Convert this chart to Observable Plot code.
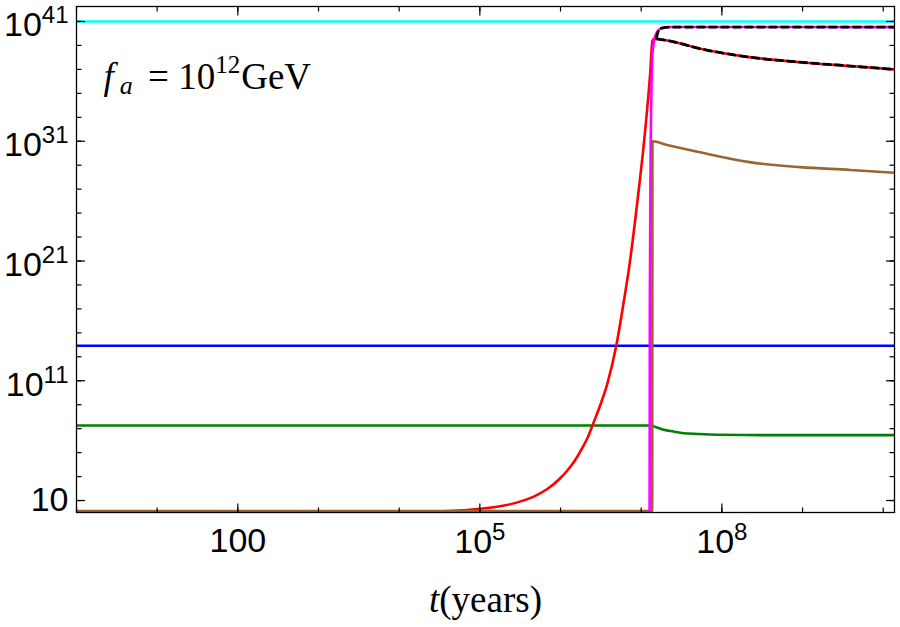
<!DOCTYPE html>
<html>
<head>
<meta charset="utf-8">
<script src="https://cdn.jsdelivr.net/npm/d3@7"></script>
<script src="https://cdn.jsdelivr.net/npm/@observablehq/plot@0.6"></script>
<style>
html, body { margin: 0; padding: 0; background: #fff; }
#chart svg { display: block; }
</style>
</head>
<body>
<div id="chart"></div>
<script>
// ---- tick values and labels ----
const xTicks = [1, 10, 100, 1e3, 1e4, 1e5, 1e6, 1e7, 1e8, 1e9, 1e10];
const xMajorTicks = [1e2, 1e5, 1e8];
const xTickLabels = ["100", "10^5", "10^8"];
const yTicks = [1e1, 1e3, 1e5, 1e7, 1e9, 1e11, 1e13, 1e15, 1e17, 1e19, 1e21, 1e23, 1e25, 1e27, 1e29, 1e31, 1e33, 1e35, 1e37, 1e39, 1e41];
const yMajorTicks = [1e1, 1e11, 1e21, 1e31, 1e41];
const yTickLabels = ["10", "10^11", "10^21", "10^31", "10^41"];

// ---- series (t in years, value) ----
const cyanT = [1, 1.38e10];
const cyanV = [1e41, 1e41];

const blueT = [1, 1.38e10];
const blueV = [8.3e13, 8.3e13];

const greenT = [1, 1.2e7, 1.29e7, 1.5e7, 1.9e7, 2.5e7, 3.35e7, 5e7, 8.7e7, 3e8, 1.38e10];
const greenV = [1.85e7, 1.85e7, 1.85e7, 1.4e7, 8.1e6, 5.8e6, 4.2e6, 3.6e6, 3.1e6, 2.9e6, 2.9e6];

const redT = [1, 1e3, 1e4, 3e4, 1e5, 2e5, 3.2e5, 5e5, 7e5, 1e6, 1.2e6, 1.5e6, 1.8e6, 2.2e6, 2.5e6, 3.2e6, 3.8e6, 4.9e6, 6.3e6, 7e6, 8.9e6, 1.12e7, 1.29e7, 1.38e7, 1.45e7, 2.1e7, 5.4e7, 2.2e8, 9.3e8, 3.9e9, 1.38e10];
const redV = [1.05, 1.05, 1.07, 1.2, 2.0, 3.8, 8.5, 27, 100, 760, 2.9e3, 2.1e4, 1.6e5, 2.2e6, 2e7, 1.6e9, 5.6e10, 8e13, 1.8e18, 1.6e20, 6e25, 8e31, 4e36, 2.5e39, 3.6e39, 2.6e39, 5.3e38, 1.05e38, 4e37, 1.9e37, 1e37];

const brownT = [1, 1.37e7, 1.38e7, 2.1e7, 5.4e7, 2.2e8, 9.3e8, 3.9e9, 1.38e10];
const brownV = [1.3, 1.3, 1e31, 4.9e30, 1.2e30, 1.8e29, 6.9e28, 4e28, 2.3e28];

const magentaT = [1.27e7, 1.28e7, 1.31e7, 1.38e7, 1.5e7, 1.73e7, 2.3e7, 5.4e7, 1.38e10];
const magentaV = [1e-3, 5e17, 1.6e30, 2e38, 6.8e39, 2.5e40, 3.5e40, 3.5e40, 3.4e40];

const dashUpperT = [1.54e7, 1.63e7, 1.82e7, 2.3e7, 5.4e7, 1.38e10];
const dashUpperV = [3.8e39, 1.5e40, 2.9e40, 3.4e40, 3.4e40, 3.4e40];

const dashLowerT = [1.6e7, 2.1e7, 5.4e7, 2.2e8, 9.3e8, 3.9e9, 1.38e10];
const dashLowerV = [3.3e39, 2.6e39, 5.3e38, 1.05e38, 4e37, 1.9e37, 1e37];

const annotation = ["f_a = 10^12GeV"];
const xTitle = ["t(years)"];

const rows = (T, V) => T.map((t, i) => ({t, v: V[i]}));

const lineOpts = {x: "t", y: "v", strokeWidth: 2.6, clip: true};
const tickOpts = {tickFormat: () => "", strokeWidth: 1.2, label: null};

const chart = Plot.plot({
  width: 900,
  height: 627,
  marginLeft: 76,
  marginRight: 6,
  marginTop: 6,
  marginBottom: 115,
  x: {type: "log", domain: [1, 1.38e10], label: null},
  y: {type: "log", domain: [1, 1.78e42], label: null},
  style: {fontFamily: "'Liberation Sans', Arial, sans-serif", background: "white", color: "black"},
  marks: [
    Plot.line(rows(cyanT, cyanV), {...lineOpts, stroke: "#00ffff"}),
    Plot.line(rows(blueT, blueV), {...lineOpts, stroke: "#0000ff"}),
    Plot.line(rows(greenT, greenV), {...lineOpts, stroke: "#008000", curve: "monotone-x"}),
    Plot.line(rows(redT, redV), {...lineOpts, stroke: "#ff0000", curve: "monotone-x"}),
    Plot.line(rows(brownT, brownV), {...lineOpts, stroke: "#996633", curve: "monotone-x"}),
    Plot.line(rows(magentaT, magentaV), {...lineOpts, stroke: "#ff00ff", curve: "monotone-x"}),
    Plot.line(rows(dashUpperT, dashUpperV), {...lineOpts, stroke: "black", strokeWidth: 2.8, strokeDasharray: "7,5", curve: "monotone-x"}),
    Plot.line(rows(dashLowerT, dashLowerV), {...lineOpts, stroke: "black", strokeWidth: 2.8, strokeDasharray: "7,5", curve: "monotone-x"}),
    Plot.frame({stroke: "black", strokeWidth: 1.3}),
    // ticks (inward)
    Plot.axisX({anchor: "bottom", ticks: xTicks, tickSize: -4.5, ...tickOpts}),
    Plot.axisX({anchor: "bottom", ticks: xMajorTicks, tickSize: -8.5, ...tickOpts}),
    Plot.axisX({anchor: "top", ticks: xTicks, tickSize: -4.5, ...tickOpts}),
    Plot.axisX({anchor: "top", ticks: xMajorTicks, tickSize: -8.5, ...tickOpts}),
    Plot.axisY({anchor: "left", ticks: yTicks, tickSize: -5.5, ...tickOpts}),
    Plot.axisY({anchor: "left", ticks: yMajorTicks, tickSize: -9, ...tickOpts}),
    Plot.axisY({anchor: "right", ticks: yTicks, tickSize: -5.5, ...tickOpts}),
    Plot.axisY({anchor: "right", ticks: yMajorTicks, tickSize: -9, ...tickOpts}),
    // tick labels
    Plot.axisX({anchor: "bottom", ticks: xMajorTicks, tickSize: 0, tickPadding: 15, fontSize: 34, label: null,
      tickFormat: d => xTickLabels[xMajorTicks.indexOf(d)]}),
    Plot.axisY({anchor: "left", ticks: yMajorTicks, tickSize: 0, tickPadding: 8, fontSize: 34, label: null,
      tickFormat: d => yTickLabels[yMajorTicks.indexOf(d)]}),
    // annotation and axis title
    Plot.text(annotation, {text: d => d, frameAnchor: "top-left", dx: 27, dy: 82, textAnchor: "start",
      lineAnchor: "bottom", fontFamily: "'Liberation Serif', 'Times New Roman', serif", fontSize: 37}),
    Plot.text(xTitle, {text: d => d, frameAnchor: "bottom", dy: 99, textAnchor: "middle",
      lineAnchor: "bottom", fontFamily: "'Liberation Serif', 'Times New Roman', serif", fontSize: 37})
  ]
});

document.getElementById("chart").appendChild(chart);

const svg = d3.select(chart);

svg.selectAll("text").each(function() {
  const s = this.textContent;
  const sel = d3.select(this);
  if (s === "f_a = 10^12GeV") {
    sel.text(null);
    sel.append("tspan").attr("font-style", "italic").text("f");
    sel.append("tspan").attr("font-style", "italic").attr("font-size", 26).attr("dx", 6).attr("dy", 5).text("a");
    sel.append("tspan").attr("dx", 6).attr("dy", -5).text(" = 10");
    sel.append("tspan").attr("font-size", 25).attr("dy", -16).text("12");
    sel.append("tspan").attr("dx", 1).attr("dy", 16).text("GeV");
  } else if (s === "t(years)") {
    sel.text(null);
    sel.append("tspan").attr("font-style", "italic").text("t");
    sel.append("tspan").text("(years)");
  } else {
    const m = /^(\d+)\^(\d+)$/.exec(s);
    if (m) {
      const holder = this.closest("[text-anchor]");
      const anchor = holder ? holder.getAttribute("text-anchor") : "middle";
      const shift = anchor === "end" ? 4 : 1;
      sel.text(null);
      sel.append("tspan").attr("dy", shift).text(m[1]);
      sel.append("tspan").attr("dy", -13).attr("font-size", 24).text(m[2]);
    }
  }
});
</script>
</body>
</html>
